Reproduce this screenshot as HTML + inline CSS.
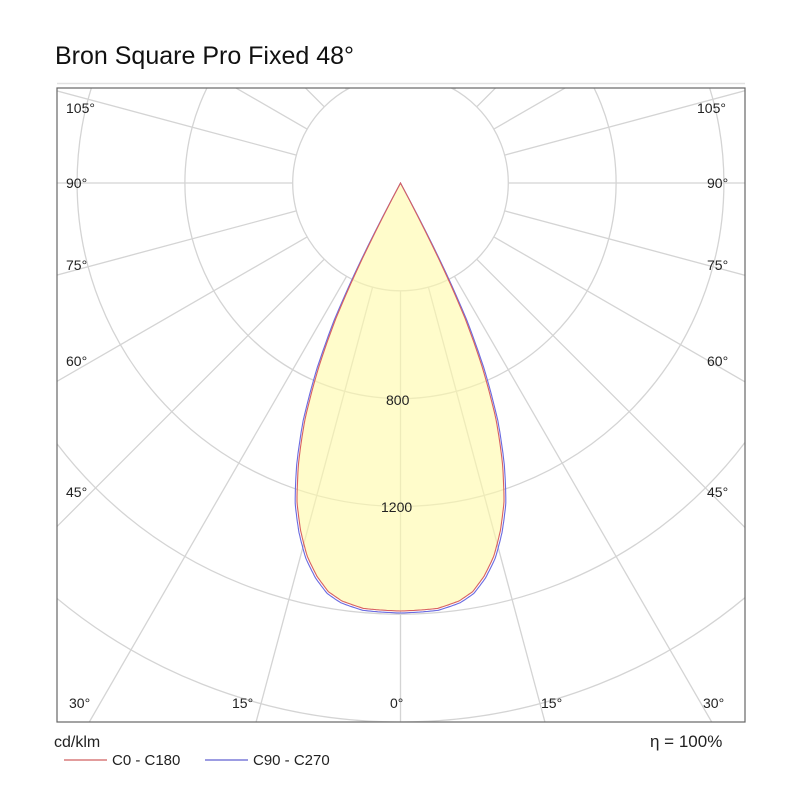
<!DOCTYPE html>
<html><head><meta charset="utf-8"><style>
html,body{margin:0;padding:0;background:#fff;width:800px;height:800px;overflow:hidden;}
svg{display:block;font-family:"Liberation Sans",Arial,sans-serif;}
</style></head><body>
<svg id="s" width="800" height="800" viewBox="0 0 800 800" xmlns="http://www.w3.org/2000/svg">
<text x="55" y="64" font-size="25" fill="#111">Bron Square Pro Fixed 48°</text>
<line x1="57" y1="83.5" x2="745" y2="83.5" stroke="#e2e2e2" stroke-width="1.5"/>
<defs><clipPath id="c"><rect x="57" y="88" width="688" height="634"/></clipPath></defs>
<g id="grid" clip-path="url(#c)" stroke="#d4d4d4" stroke-width="1.3" fill="none"></g>
<g id="lobe" clip-path="url(#c)"></g>
<rect x="57" y="88" width="688" height="634" fill="none" stroke="#666" stroke-width="1.2"/>
<g font-size="14" fill="#222">
<text x="66" y="113">105°</text><text x="697" y="113">105°</text>
<text x="66" y="188">90°</text><text x="707" y="188">90°</text>
<text x="66" y="270">75°</text><text x="707" y="270">75°</text>
<text x="66" y="366">60°</text><text x="707" y="366">60°</text>
<text x="66" y="497">45°</text><text x="707" y="497">45°</text>
<text x="69" y="708">30°</text><text x="232" y="708">15°</text><text x="390" y="708">0°</text>
<text x="541" y="708">15°</text><text x="703" y="708">30°</text>
<text x="386" y="405">800</text><text x="381" y="512">1200</text>
</g>
<text x="54" y="747" font-size="16" fill="#222">cd/klm</text>
<text x="650" y="747" font-size="17" fill="#222">η = 100%</text>
<line x1="64" y1="760" x2="107" y2="760" stroke="#d06060" stroke-width="1.2"/>
<text x="112" y="765" font-size="15" fill="#222">C0 - C180</text>
<line x1="205" y1="760" x2="248" y2="760" stroke="#6060d0" stroke-width="1.2"/>
<text x="253" y="765" font-size="15" fill="#222">C90 - C270</text>
</svg>
<script>
var cx=400.5,cy=183,u=107.8,NS="http://www.w3.org/2000/svg";
var g=document.getElementById('grid');
function el(p,t,a){var e=document.createElementNS(NS,t);for(var k in a)e.setAttribute(k,a[k]);p.appendChild(e);return e;}
for(var i=1;i<=6;i++)el(g,'circle',{cx:cx,cy:cy,r:u*i});
for(var a=0;a<360;a+=15){var r=a*Math.PI/180;el(g,'line',{x1:cx+u*Math.sin(r),y1:cy+u*Math.cos(r),x2:cx+900*Math.sin(r),y2:cy+900*Math.cos(r)});}
var T=[0,5,8,10,12,14,16,18,20,22,24,25.5,26.5,27.3,28],R=[428,427,422,415,402,385,362,335,298,255,200,150,100,50,0];
function rad(ad){for(var i=0;i<T.length-1;i++){if(ad>=T[i]&&ad<=T[i+1]){var f=(ad-T[i])/(T[i+1]-T[i]);return R[i]+(R[i+1]-R[i])*f;}}return 0;}
function path(k,dr){var p=[];for(var d=-28;d<=28.001;d+=0.25){var rr=rad(Math.abs(d));if(rr>0)rr+=dr;var th=d*k*Math.PI/180;p.push((cx+rr*Math.sin(th)).toFixed(1)+','+(cy+rr*Math.cos(th)).toFixed(1));}return 'M'+p.join('L')+'Z';}
var L=document.getElementById('lobe');
el(L,'path',{d:path(1,0),fill:'#fffaa8','fill-opacity':'0.6',stroke:'none'});
el(L,'path',{d:path(1.012,2),fill:'none',stroke:'#6a6ae0','stroke-width':'1.1'});
el(L,'path',{d:path(1,0),fill:'none',stroke:'#d86060','stroke-width':'1.1'});
</script>
</body></html>
